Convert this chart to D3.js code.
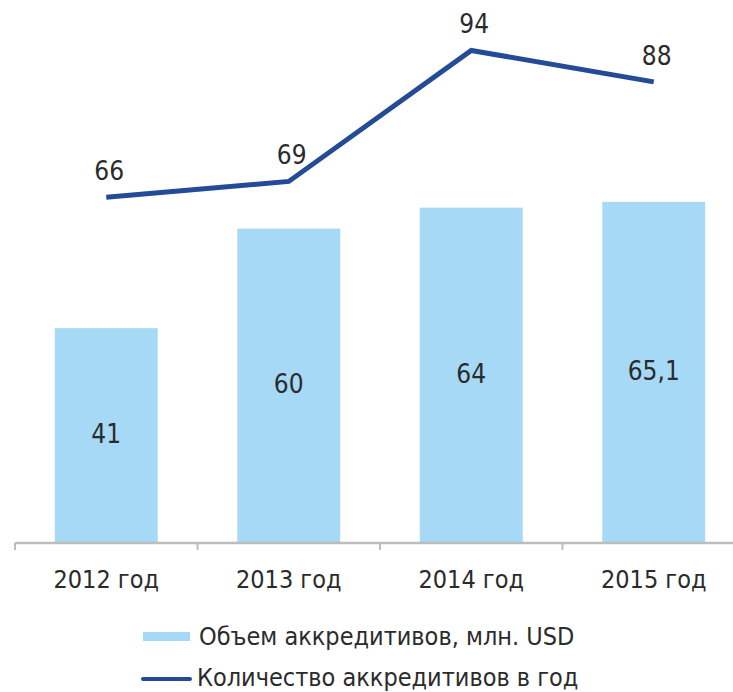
<!DOCTYPE html>
<html>
<head>
<meta charset="utf-8">
<script src="https://cdn.jsdelivr.net/npm/d3@7"></script>
<style>
  body { margin: 0; background: #fff; }
  text { font-family: "Liberation Sans Narrow", "DejaVu Sans Condensed", "Roboto", sans-serif; fill: #2b2b2b; }
</style>
</head>
<body>
<div id="chart"></div>
<script>
const years = ['2012 год', '2013 год', '2014 год', '2015 год'];
const volume = [41, 60, 64, 65.1];
const volumeLabels = ['41', '60', '64', '65,1'];
const count = [66, 69, 94, 88];
const legendNames = ['Объем аккредитивов, млн. USD', 'Количество аккредитивов в год'];

const width = 733;
const height = 692;
const baseY = 543;
const barColor = '#a5d9f5';
const lineColor = '#234b97';

const svg = d3.select('#chart').append('svg')
  .attr('width', width)
  .attr('height', height);

const x = d3.scaleBand()
  .domain(years)
  .range([15, 745])
  .paddingInner(0.436)
  .paddingOuter(0.218);

const y = d3.scaleLinear()
  .domain([0, 100])
  .range([baseY, baseY - 524]);

// Bars
svg.selectAll('rect.bar')
  .data(volume)
  .join('rect')
  .attr('class', 'bar')
  .attr('x', (d, i) => x(years[i]))
  .attr('y', d => y(d))
  .attr('width', x.bandwidth())
  .attr('height', d => baseY - y(d))
  .attr('fill', barColor);

// Bar value labels
svg.selectAll('text.bar-label')
  .data(volume)
  .join('text')
  .attr('class', 'bar-label')
  .attr('x', (d, i) => x(years[i]) + x.bandwidth() / 2)
  .attr('y', d => (y(d) + baseY) / 2)
  .attr('text-anchor', 'middle')
  .attr('dominant-baseline', 'middle')
  .attr('font-size', '26px')
  .text((d, i) => volumeLabels[i]);

// X axis
svg.append('line')
  .attr('x1', 15)
  .attr('x2', width)
  .attr('y1', baseY)
  .attr('y2', baseY)
  .attr('stroke', '#bdbdbd')
  .attr('stroke-width', 2.5);

svg.selectAll('line.tick')
  .data(years)
  .join('line')
  .attr('class', 'tick')
  .attr('x1', d => x(d) - x.step() * x.paddingOuter())
  .attr('x2', d => x(d) - x.step() * x.paddingOuter())
  .attr('y1', baseY)
  .attr('y2', baseY + 7)
  .attr('stroke', '#bdbdbd')
  .attr('stroke-width', 2);

svg.selectAll('text.year')
  .data(years)
  .join('text')
  .attr('class', 'year')
  .attr('x', d => x(d) + x.bandwidth() / 2)
  .attr('y', 588)
  .attr('text-anchor', 'middle')
  .attr('font-size', '25px')
  .text(d => d);

// Line
const line = d3.line()
  .x((d, i) => x(years[i]) + x.bandwidth() / 2)
  .y(d => y(d));

svg.append('path')
  .datum(count)
  .attr('d', line)
  .attr('fill', 'none')
  .attr('stroke', lineColor)
  .attr('stroke-width', 5);

svg.selectAll('text.line-label')
  .data(count)
  .join('text')
  .attr('class', 'line-label')
  .attr('x', (d, i) => x(years[i]) + x.bandwidth() / 2 + 3)
  .attr('y', d => y(d) - 17)
  .attr('text-anchor', 'middle')
  .attr('font-size', '26px')
  .text(d => d);

// Legend
svg.append('rect')
  .attr('x', 143)
  .attr('y', 632)
  .attr('width', 47)
  .attr('height', 9)
  .attr('fill', barColor);

svg.append('text')
  .attr('x', 199)
  .attr('y', 645)
  .attr('font-size', '25px')
  .text(legendNames[0]);

svg.append('line')
  .attr('x1', 143)
  .attr('x2', 190)
  .attr('y1', 679)
  .attr('y2', 679)
  .attr('stroke', lineColor)
  .attr('stroke-width', 4)
  .attr('stroke-linecap', 'round');

svg.append('text')
  .attr('x', 197)
  .attr('y', 686)
  .attr('font-size', '25px')
  .text(legendNames[1]);
</script>
</body>
</html>
